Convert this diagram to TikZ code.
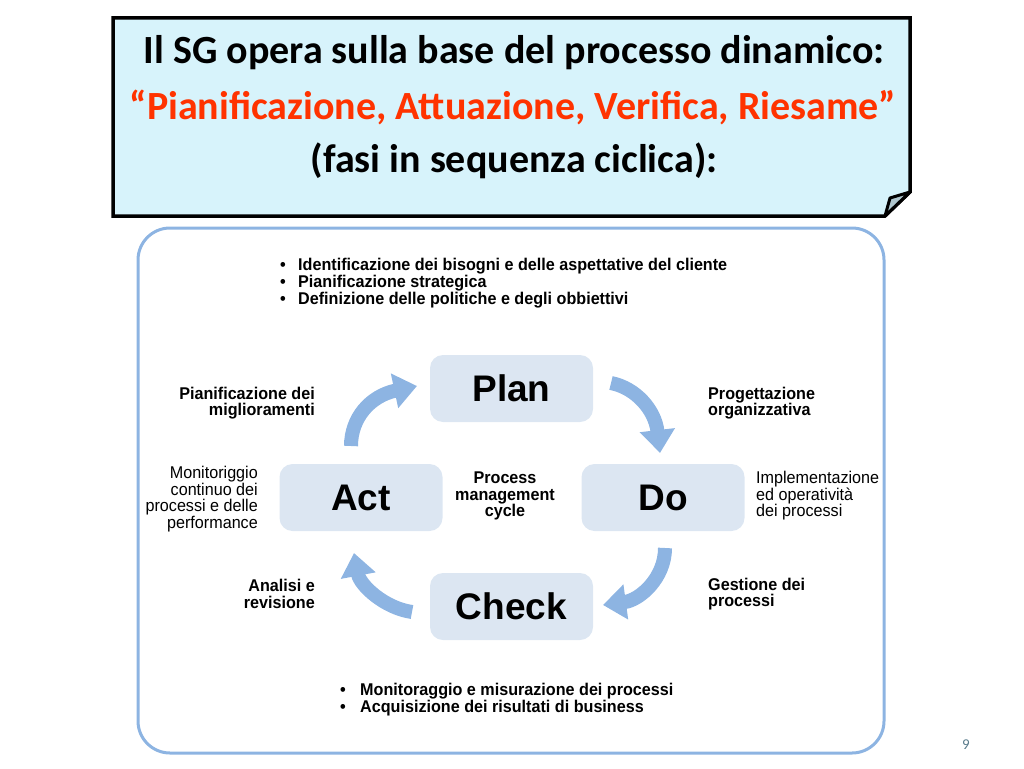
\documentclass[tikz,border=0pt]{standalone}
\usepackage{fontspec}
\setmainfont{Carlito}
\newfontfamily\nar[FakeStretch=0.95]{Liberation Sans}
\newfontfamily\boxfont{Liberation Sans}
\usetikzlibrary{arrows.meta}
\definecolor{titlefill}{HTML}{D7F3FB}
\definecolor{titlered}{HTML}{FF3300}
\definecolor{framecol}{HTML}{8DB4E2}
\definecolor{arrowcol}{HTML}{8DB4E2}
\definecolor{boxfill}{HTML}{DCE6F2}
\definecolor{foldcol}{HTML}{AFC6CE}
\definecolor{pagenum}{HTML}{5A7C8C}
\tikzset{
  phase/.style={fill=boxfill, rounded corners=13pt, minimum width=163pt, minimum height=67pt, inner sep=0pt,
    font=\boxfont\bfseries\fontsize{37}{37}\selectfont},
  cyc/.style={draw=arrowcol, line width=14pt, -{Triangle[width=34pt,length=23pt]}},
  lbl/.style={inner sep=0pt, font=\nar\bfseries\fontsize{17}{16.5}\selectfont},
  lblr/.style={inner sep=0pt, font=\nar\fontsize{17}{16.5}\selectfont},
  titletext/.style={inner sep=0pt, font=\bfseries\fontsize{40}{40}\selectfont}
}
\begin{document}
\begin{tikzpicture}[x=1pt,y=-1pt]
\useasboundingbox (0,0) rectangle (1024,768);
% title box
\draw[line width=3.5pt, fill=titlefill, line join=miter]
  (113,18) -- (910,18) -- (910,192) -- (885,216) -- (113,216) -- cycle;
\draw[line width=3pt, fill=foldcol, line join=round] (885,216) -- (890,198) -- (910,192) -- cycle;
\node[titletext] (t1) at (514,53) {Il SG opera sulla base del processo dinamico:};
\node[titletext, text=titlered] (t2) at (513,107) {“Pianificazione, Attuazione, Verifica, Riesame”};
\node[titletext] (t3) at (514,161) {(fasi in sequenza ciclica):};
% frame
\draw[framecol, line width=3pt, rounded corners=32pt] (138,228) rectangle (884,753);
% phases
\node[phase] (plan) at (511.5,388.5) {Plan};
\node[phase] (act) at (361,497.5) {Act};
\node[phase] (do) at (663,497.5) {Do};
\node[phase] (check) at (511.5,606.5) {Check};
% arrows
\coordinate (a1s) at (351,446);
\coordinate (a1e) at (417,386);
\coordinate (a2s) at (611,383);
\coordinate (a2e) at (660,453);
\coordinate (a3s) at (665,548);
\coordinate (a3e) at (603,605);
\coordinate (a4s) at (412,612);
\coordinate (a4e) at (354,553);
\draw[cyc] (a1s) .. controls (351,418) and (370,396) .. (a1e);
\draw[cyc] (a2s) .. controls (636,388) and (655,410) .. (a2e);
\draw[cyc] (a3s) .. controls (665,578) and (640,600) .. (a3e);
\draw[cyc] (a4s) .. controls (384,608) and (360,585) .. (a4e);
% texts
\node[lbl, anchor=west] (topb) at (280,284) {\renewcommand\arraystretch{1}\begin{tabular}{@{}p{18pt}@{}l@{}}
\textbullet & Identificazione dei bisogni e delle aspettative del cliente\\
\textbullet & Pianificazione strategica\\
\textbullet & Definizione delle politiche e degli obbiettivi
\end{tabular}};
\node[lbl, anchor=west] (botb) at (340,700) {\renewcommand\arraystretch{1}\begin{tabular}{@{}p{20pt}@{}l@{}}
\textbullet & Monitoraggio e misurazione dei processi\\
\textbullet & Acquisizione dei risultati di business
\end{tabular}};
\node[lbl, anchor=east, align=right] (l1) at (315,403) {Pianificazione dei\\miglioramenti};
\node[lbl, anchor=west, align=left] (l2) at (708,403) {Progettazione\\organizzativa};
\node[lblr, anchor=east, align=right] (l3) at (258,499) {Monitoriggio\\continuo dei\\processi e delle\\performance};
\node[lbl, align=center] (l4) at (505,496) {Process\\management\\cycle};
\node[lblr, anchor=west, align=left] (l5) at (756,496) {Implementazione\\ed operatività\\dei processi};
\node[lbl, anchor=east, align=right] (l6) at (315,594) {Analisi e\\revisione};
\node[lbl, anchor=west, align=left] (l7) at (708,594) {Gestione dei\\processi};
\node[inner sep=0pt, text=pagenum, font=\fontsize{15}{15}\selectfont] (pg) at (966,745) {9};
\end{tikzpicture}
\end{document}
